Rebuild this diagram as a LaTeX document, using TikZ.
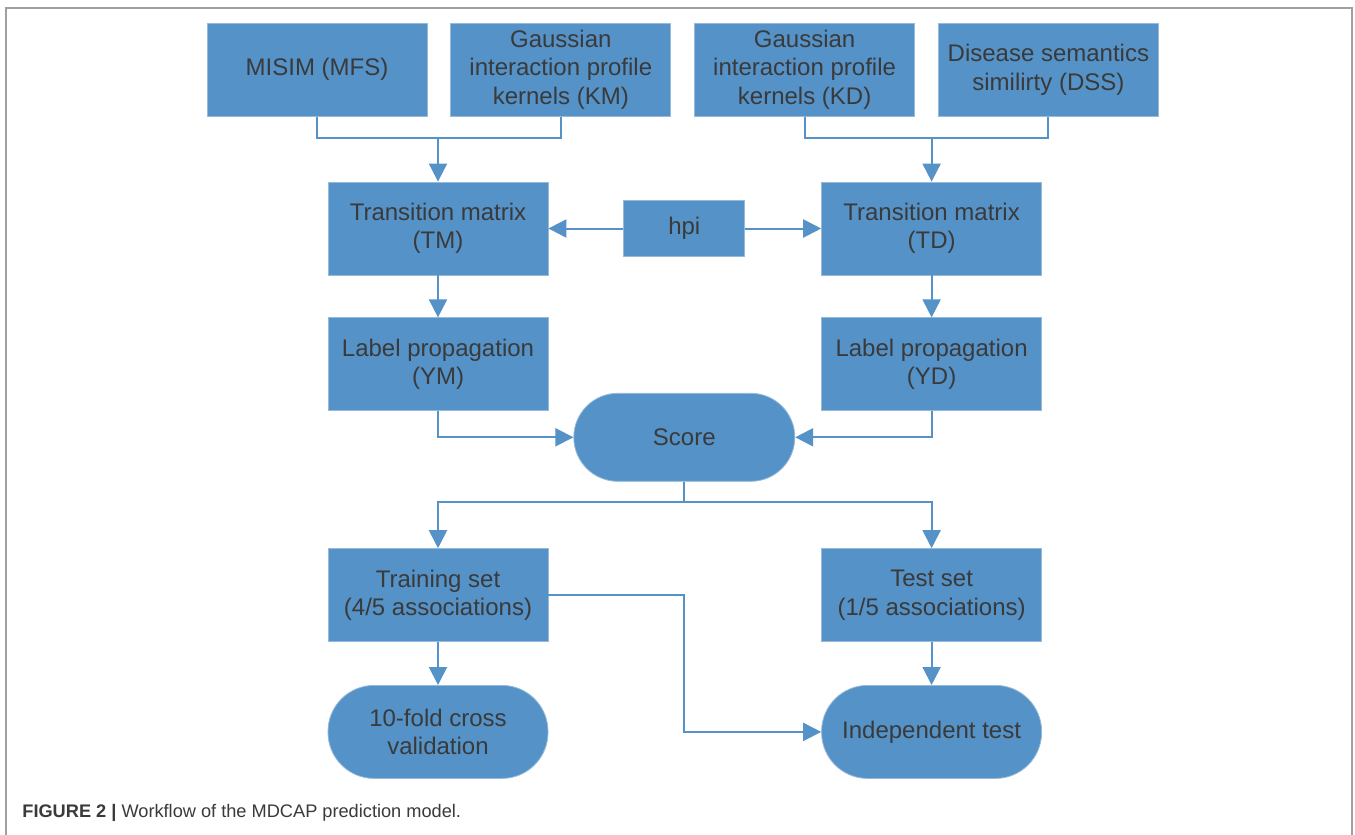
\documentclass[tikz,border=0pt]{standalone}
\usepackage{fontspec}
\setmainfont{Liberation Sans}
\usetikzlibrary{arrows.meta, positioning}

\definecolor{boxblue}{RGB}{84,146,199}
\definecolor{boxedge}{RGB}{150,186,218}
\definecolor{textgray}{RGB}{58,58,58}
\definecolor{framegray}{RGB}{160,160,160}

\tikzset{
    process/.style={
        rectangle, minimum width=110pt, minimum height=46.5pt, inner sep=0pt, align=center,
        draw=boxedge, line width=0.4pt, fill=boxblue, text=textgray, font=\fontsize{12}{14.25}\selectfont
    },
    terminal/.style={
        process, rounded corners=23pt
    },
    arrow/.style={
        line width=1pt, draw=boxblue, -{Triangle[length=9pt,width=9pt]}
    },
    link/.style={
        line width=1pt, draw=boxblue
    }
}

\begin{document}
\begin{tikzpicture}

            \useasboundingbox (0,0) rectangle (677.5pt,-417.5pt);
            \fill[white] (0,0) rectangle (677.5pt,-417.5pt);
            \draw[framegray, line width=0.75pt] (3pt,-430pt) |- (676pt,-4pt) -- (676pt,-430pt);

            % Transition matrices and hpi
            \node[process] (tm) at (219pt,-114.25pt) {Transition matrix\\(TM)};
            \node[process, minimum width=60.5pt, minimum height=28pt, right=37.5pt of tm] (hpi) {hpi};
            \node[process, right=38pt of hpi] (td) {Transition matrix\\(TD)};

            % Inputs
            \node[process, above=32.5pt of tm, xshift=-60.5pt] (misim) {MISIM (MFS)};
            \node[process, right=11.5pt of misim] (km) {Gaussian\\interaction profile\\kernels (KM)};
            \node[process, right=11.5pt of km] (kd) {Gaussian\\interaction profile\\kernels (KD)};
            \node[process, right=11.5pt of kd] (dss) {Disease semantics\\similirty (DSS)};

            % Label propagation and score
            \node[process, below=21pt of tm] (ym) {Label propagation\\(YM)};
            \node[process, below=21pt of td] (yd) {Label propagation\\(YD)};
            \node[terminal, minimum width=110.5pt, minimum height=44pt, rounded corners=22pt, below=68pt of hpi] (score) {Score};

            % Evaluation
            \node[process, below=68.5pt of ym] (train) {Training set\\(4/5 associations)};
            \node[process, below=68.5pt of yd] (test) {Test set\\(1/5 associations)};
            \node[terminal, below=21.5pt of train] (cv) {10-fold cross\\validation};
            \node[terminal, below=21.5pt of test] (ind) {Independent test};

            \node[anchor=west, inner sep=0pt, text=textgray, font=\fontsize{9.1}{11}\selectfont] (caption) at (11pt,-406.5pt) {\textbf{FIGURE 2 |} Workflow of the MDCAP prediction model.};

            % Relationships
            \coordinate[above=22pt of tm.north] (jm);
            \coordinate[above=22pt of td.north] (jd);
            \coordinate[below=10pt of score.south] (js);
            \draw[link] (misim.south) |- (jm) -| (km.south);
            \draw[link] (kd.south) |- (jd) -| (dss.south);
            \draw[arrow] (jm) -- (tm.north);
            \draw[arrow] (jd) -- (td.north);
            \draw[arrow] (hpi.west) -- (tm.east);
            \draw[arrow] (hpi.east) -- (td.west);
            \draw[arrow] (tm.south) -- (ym.north);
            \draw[arrow] (td.south) -- (yd.north);
            \draw[arrow] (ym.south) |- (score.west);
            \draw[arrow] (yd.south) |- (score.east);
            \draw[link] (score.south) -- (js);
            \draw[arrow] (js) -| (train.north);
            \draw[arrow] (js) -| (test.north);
            \draw[arrow] (train.south) -- (cv.north);
            \draw[arrow] (test.south) -- (ind.north);
            \draw[arrow] (train.east) -| (js |- ind.west) -- (ind.west);

        \end{tikzpicture}
\end{document}
